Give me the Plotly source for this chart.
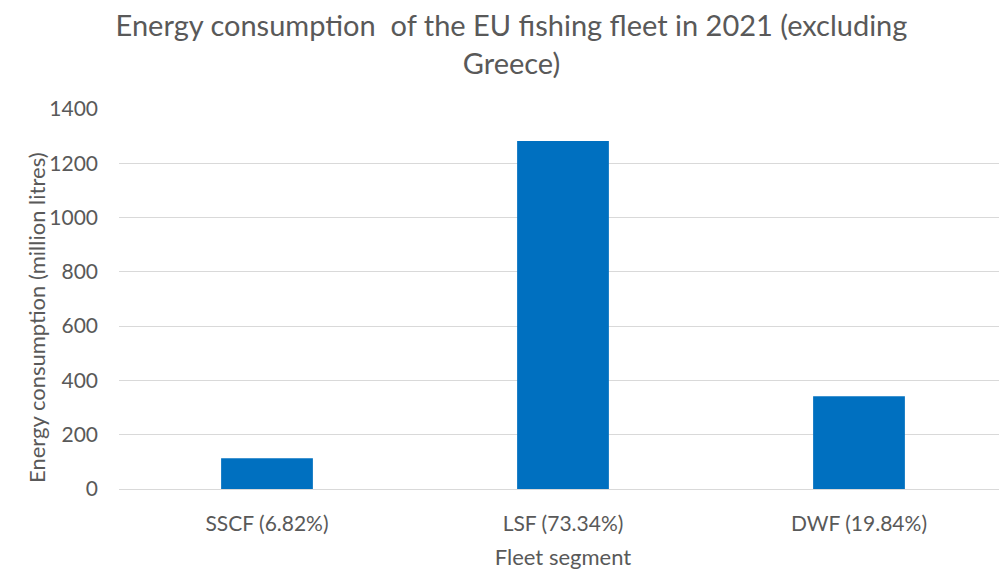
import plotly.graph_objects as go

categories = ["SSCF (6.82%)", "LSF (73.34%)", "DWF (19.84%)"]
values = [113, 1282, 342]
y_ticks = [0, 200, 400, 600, 800, 1000, 1200, 1400]

title_text = "Energy consumption  of the EU fishing fleet in 2021 (excluding<br>Greece)"
y_title = "Energy consumption (million litres)"
x_title = "Fleet segment"
font_family = "Lato, 'Open Sans', sans-serif"
grey = "#595959"

# page body adds an 8px offset; margins compensate for it
fig = go.Figure(
    go.Bar(
        x=categories,
        y=values,
        marker=dict(color="#0070C0", line=dict(width=0)),
        width=0.31,
    )
)

fig.update_layout(
    width=1007,
    height=571,
    paper_bgcolor="white",
    plot_bgcolor="white",
    margin=dict(l=111, r=8, t=101, b=90, autoexpand=False),
    showlegend=False,
    font=dict(family=font_family, size=21, color=grey),
    title=dict(
        text=title_text,
        x=0.5,
        xref="container",
        xanchor="center",
        y=1 - 28 / 571,
        yref="container",
        yanchor="middle",
        font=dict(family=font_family, size=29, color=grey),
    ),
    annotations=[
        dict(
            text=y_title,
            textangle=-90,
            xref="paper",
            yref="paper",
            x=-(111 - 28) / 888,
            y=0.5 - 19 / 380,
            xanchor="center",
            yanchor="middle",
            showarrow=False,
            font=dict(family=font_family, size=22, color=grey),
        )
    ],
)

fig.update_yaxes(
    range=[0, 1400],
    tickvals=y_ticks,
    showgrid=True,
    gridcolor="#d9d9d9",
    gridwidth=1.3,
    zeroline=False,
    showline=False,
    ticks="",
    ticklabelstandoff=20,
    tickfont=dict(size=21, color=grey),
    automargin=False,
    fixedrange=True,
)

fig.update_xaxes(
    showgrid=False,
    showline=True,
    linecolor="#d9d9d9",
    linewidth=1.3,
    ticks="",
    ticklabelstandoff=16,
    tickfont=dict(size=21, color=grey),
    title=dict(text=x_title, standoff=15, font=dict(size=22, color=grey)),
    automargin=False,
    fixedrange=True,
)

fig.write_html("out.html")
